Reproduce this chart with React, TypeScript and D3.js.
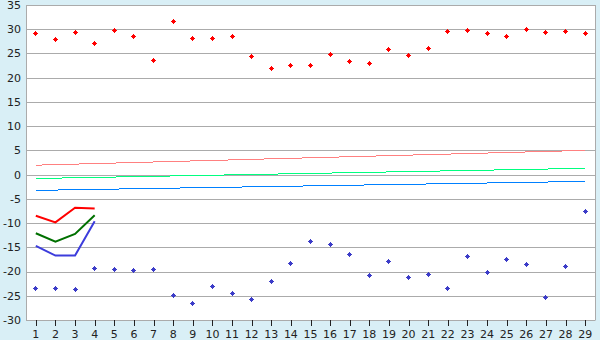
import React from "react";
import * as d3 from "d3";

const categories = Array.from({ length: 29 }, (_, i) => String(i + 1));
const yTicks = [35, 30, 25, 20, 15, 10, 5, 0, -5, -10, -15, -20, -25, -30];

const maxPoints = [29.2, 27.9, 29.4, 27.1, 29.8, 28.5, 23.6, 31.6, 28.1, 28.1, 28.5, 24.4, 21.9, 22.5, 22.5, 24.8, 23.4, 23.0, 25.85, 24.6, 26.05, 29.6, 29.8, 29.15, 28.5, 30.0, 29.4, 29.6, 29.15];
const minPoints = [-23.5, -23.5, -23.7, -19.3, -19.5, -19.75, -19.5, -24.9, -26.6, -23.05, -24.5, -25.7, -22.0, -18.3, -13.8, -14.4, -16.4, -20.8, -17.9, -21.2, -20.6, -23.5, -16.9, -20.2, -17.5, -18.5, -25.3, -18.9, -7.6];

const redLine = [-8.5, -9.85, -6.85, -7.0];
const greenLine = [-12.1, -13.85, -12.25, -8.4];
const blueLine = [-14.7, -16.7, -16.7, -9.6];

// trend lines: value at first and last category
const trendCats = ["1", "29"];
const pinkTrend = [1.95, 5.0];
const greenTrend = [-0.8, 1.3];
const blueTrend = [-3.25, -1.4];

const W = 600, H = 340;
const L = 26, R = 595, T = 5, B = 320;

export default function App() {
  const x = d3.scaleBand<string>().domain(categories).range([L, R]).padding(0);
  const cx = (c: string) => (x(c) as number) + x.bandwidth() / 2;
  const y = d3.scaleLinear().domain([-30, 35]).range([B, T]);

  const line = d3
    .line<[string, number]>()
    .x((d) => cx(d[0]))
    .y((d) => y(d[1]));

  const seg = (vals: number[], cats = categories) =>
    line(vals.map((v, i) => [cats[i], v] as [string, number])) || "";

  const marker = (px: number, py: number, color: string, key: string) => {
    const X = Math.floor(px), Y = Math.floor(py);
    return (
      <path
        key={key}
        d={`M${X},${Y - 2}h1v1h1v1h1v1h-1v1h-1v1h-1v-1h-1v-1h-1v-1h1v-1h1z`}
        fill={color}
        shapeRendering="crispEdges"
      />
    );
  };

  return (
    <svg
      width={W}
      height={H}
      style={{ position: "fixed", left: 0, top: 0, display: "block" }}
      fontFamily="DejaVu Sans, Verdana, sans-serif"
    >
      <rect x={0} y={0} width={W} height={H} fill="#d9eff6" />
      <rect x={L} y={T} width={R - L} height={B - T} fill="#ffffff" />
      {yTicks.map((t) => (
        <line key={"g" + t} x1={L} x2={R} y1={Math.round(y(t)) + 0.5} y2={Math.round(y(t)) + 0.5} stroke="#ababab" strokeWidth={1} />
      ))}
      <line x1={L + 0.5} x2={L + 0.5} y1={T} y2={B + 0.5} stroke="#ababab" />
      <line x1={R + 0.5} x2={R + 0.5} y1={T} y2={B + 0.5} stroke="#ababab" />
      {categories.map((c) => (
        <line key={"t" + c} x1={Math.round(cx(c)) + 0.5} x2={Math.round(cx(c)) + 0.5} y1={B} y2={B + 6} stroke="#222" strokeWidth={1} />
      ))}
      {yTicks.map((t) => (
        <text key={"yl" + t} x={21} y={y(t)} dy="0.36em" textAnchor="end" fontSize={11} fill="#222">
          {t}
        </text>
      ))}
      {categories.map((c) => (
        <text key={"xl" + c} x={cx(c)} y={338} textAnchor="middle" fontSize={11} fill="#222">
          {c}
        </text>
      ))}
      <g shapeRendering="crispEdges">
        <path d={seg(pinkTrend, trendCats)} fill="none" stroke="#ff8080" strokeWidth={1} />
        <path d={seg(greenTrend, trendCats)} fill="none" stroke="#00ff80" strokeWidth={1} />
        <path d={seg(blueTrend, trendCats)} fill="none" stroke="#0080ff" strokeWidth={1} />
      </g>
      <path d={seg(redLine)} fill="none" stroke="#ff0000" strokeWidth={2} />
      <path d={seg(greenLine)} fill="none" stroke="#007000" strokeWidth={2} />
      <path d={seg(blueLine)} fill="none" stroke="#3c3cdc" strokeWidth={2} />
      {maxPoints.map((v, i) => marker(cx(categories[i]), y(v), "#ff0000", "mx" + i))}
      {minPoints.map((v, i) => marker(cx(categories[i]), y(v), "#3c3cc8", "mn" + i))}
    </svg>
  );
}
